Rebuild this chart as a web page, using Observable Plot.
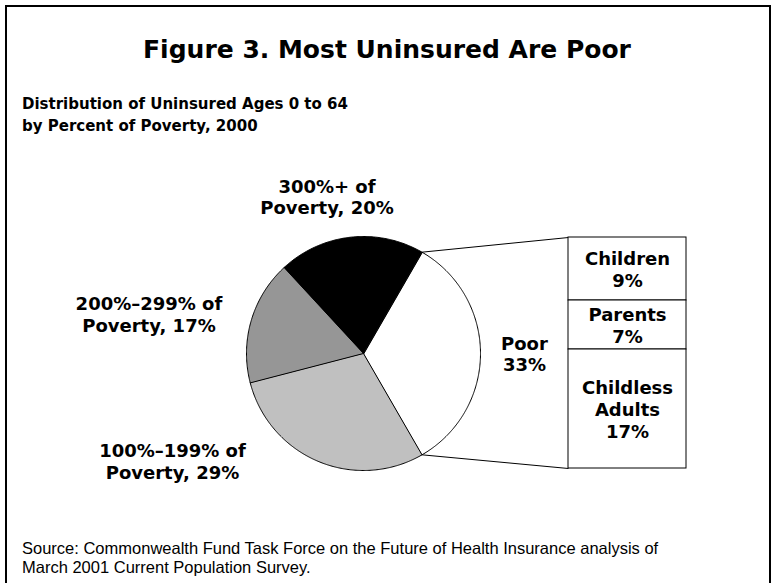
<!DOCTYPE html>
<html><head><meta charset="utf-8">
<script src="https://cdn.jsdelivr.net/npm/d3@7"></script>
<script src="https://cdn.jsdelivr.net/npm/@observablehq/plot@0.6"></script>
<style>
html,body{margin:0;padding:0;background:#fff}
body{width:774px;height:583px;overflow:hidden;position:relative;font-family:"Liberation Sans",Arial,sans-serif;color:#000}
#frame{position:absolute;left:5px;top:5px;width:766px;height:620px;border:2px solid #000;box-sizing:border-box}
.heavy{font-family:"DejaVu Sans",sans-serif;font-weight:700}
#title{position:absolute;left:0;width:774px;top:35px;text-align:center;font-size:25px;line-height:29px;white-space:nowrap}
#sub{position:absolute;left:22px;top:93px;font-size:15px;line-height:22px;white-space:nowrap}
#chart{position:absolute;left:0;top:140px}
#source{position:absolute;left:22px;top:539px;font-size:16.5px;line-height:19px;white-space:nowrap}
</style></head>
<body>
<div id="frame"></div>
<div id="title" class="heavy">Figure 3. Most Uninsured Are Poor</div>
<div id="sub" class="heavy">Distribution of Uninsured Ages 0 to 64<br>by Percent of Poverty, 2000</div>
<div id="chart"></div>
<div id="source">Source: Commonwealth Fund Task Force on the Future of Health Insurance analysis of<br>March 2001 Current Population Survey.</div>
<script>
// ---- data ----
const slices = ["Poor", "100%–199% of Poverty", "200%–299% of Poverty", "300%+ of Poverty"];
const sliceValues = [33, 29, 17, 20];
const sliceLabels = ["Poor\n33%", "100%–199% of\nPoverty, 29%", "200%–299% of\nPoverty, 17%", "300%+ of\nPoverty, 20%"];
const poorGroups = ["Children", "Parents", "Childless Adults"];
const poorValues = [9, 7, 17];
const poorLabels = ["Children\n9%", "Parents\n7%", "Childless\nAdults\n17%"];

// ---- layout ----
const W = 774, H = 380;
const cx = 363, cy = 213, r = 117;
const barX1 = 568, barX2 = 686, barTop = 97, barBottom = 328;
const sliceColors = ["#ffffff", "#c0c0c0", "#969696", "#000000"];
const labelRadius = 1.35;
const labelNudge = [[3, 0], [-130, -38], [-63, 5], [-19, 0]];
const heavy = "'DejaVu Sans', sans-serif";

const start = Math.PI / 6;
const arcs = d3.pie().sort(null).startAngle(start).endAngle(start + 2 * Math.PI)(sliceValues);
const pt = (a, rr) => [cx + rr * Math.sin(a), cy - rr * Math.cos(a)];

const polys = [];
arcs.forEach((a, i) => {
  polys.push({name: slices[i], x: cx, y: cy});
  const n = Math.max(4, Math.ceil((a.endAngle - a.startAngle) / 0.01));
  for (let k = 0; k <= n; k++) {
    const ang = a.startAngle + (a.endAngle - a.startAngle) * k / n;
    const [x, y] = pt(ang, r);
    polys.push({name: slices[i], x, y});
  }
});

const labels = arcs.map((a, i) => {
  const mid = (a.startAngle + a.endAngle) / 2;
  const [x, y] = pt(mid, r * labelRadius);
  return {text: sliceLabels[i], x: x + labelNudge[i][0], y: y + labelNudge[i][1]};
});

const poorTotal = d3.sum(poorValues);
const barScale = d3.scaleLinear().domain([0, poorTotal]).range([barTop, barBottom]);
let acc = 0;
const segs = poorValues.map((v, i) => {
  const s = {name: poorGroups[i], label: poorLabels[i], y1: barScale(acc), y2: barScale(acc + v)};
  acc += v; return s;
});

const poorArc = arcs[0];
const [px1, py1] = pt(poorArc.startAngle, r);
const [px2, py2] = pt(poorArc.endAngle, r);
const connectors = [
  {x1: px1, y1: py1, x2: barX1, y2: barScale(0)},
  {x1: px2, y1: py2, x2: barX1, y2: barScale(poorTotal)}
];

const chart = Plot.plot({
  width: W, height: H,
  margin: 0,
  x: {type: "identity", axis: null},
  y: {type: "identity", axis: null},
  style: {background: "transparent", overflow: "visible"},
  marks: [
    Plot.link(connectors, {x1: "x1", y1: "y1", x2: "x2", y2: "y2", stroke: "#000", strokeWidth: 1}),
    ...slices.map((s, i) => Plot.line(polys.filter(d => d.name === s), {x: "x", y: "y", curve: "linear-closed", fill: sliceColors[i], stroke: "#000", strokeWidth: 1})),
    Plot.rect(segs, {x1: () => barX1, x2: () => barX2, y1: "y1", y2: "y2", fill: "#fff", stroke: "#000", strokeWidth: 1}),
    Plot.text(segs, {x: () => (barX1 + barX2) / 2, y: d => (d.y1 + d.y2) / 2, text: "label", fontSize: 18, fontFamily: heavy, fontWeight: 700, fill: "#000", lineHeight: 1.2}),
    Plot.text(labels, {x: "x", y: "y", text: "text", fontSize: 18, fontFamily: heavy, fontWeight: 700, fill: "#000", lineHeight: 1.2})
  ]
});
document.getElementById("chart").appendChild(chart);
</script>
</body></html>
